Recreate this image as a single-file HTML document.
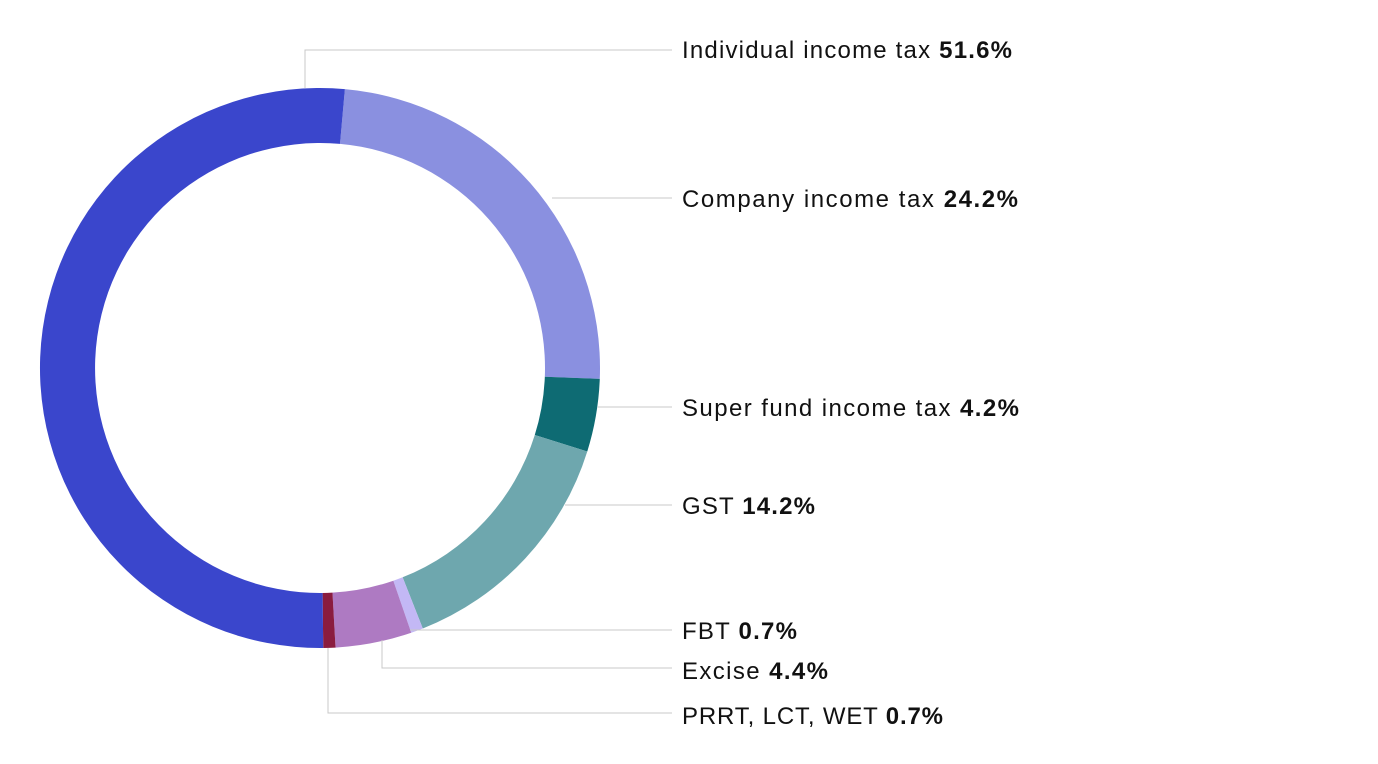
<!DOCTYPE html>
<html><head><meta charset="utf-8"><style>
html,body{margin:0;padding:0;background:#fff;}
svg{display:block;}
text{font-family:"Liberation Sans",sans-serif;font-size:24px;fill:#111;}
</style></head><body>
<svg id="s" width="1378" height="764" viewBox="0 0 1378 764">
<g id="arcs"></g>
<g stroke="#c8c8c8" stroke-width="1" fill="none">
<polyline points="305,88 305,50 672,50"/>
<polyline points="552,198 672,198"/>
<polyline points="598,407 672,407"/>
<polyline points="565,505 672,505"/>
<polyline points="410,630 672,630"/>
<polyline points="382,640 382,668 672,668"/>
<polyline points="328,648 328,713 672,713"/>
</g>
<text x="682" y="58" textLength="330" lengthAdjust="spacing">Individual income tax <tspan font-weight="bold">51.6%</tspan></text>
<text x="682" y="207" textLength="336" lengthAdjust="spacing">Company income tax <tspan font-weight="bold">24.2%</tspan></text>
<text x="682" y="416" textLength="337" lengthAdjust="spacing">Super fund income tax <tspan font-weight="bold">4.2%</tspan></text>
<text x="682" y="514" textLength="133" lengthAdjust="spacing">GST <tspan font-weight="bold">14.2%</tspan></text>
<text x="682" y="639" textLength="115" lengthAdjust="spacing">FBT <tspan font-weight="bold">0.7%</tspan></text>
<text x="682" y="679" textLength="146" lengthAdjust="spacing">Excise <tspan font-weight="bold">4.4%</tspan></text>
<text x="682" y="724" textLength="261" lengthAdjust="spacing">PRRT, LCT, WET <tspan font-weight="bold">0.7%</tspan></text>
</svg>
<script>
var cx=320,cy=368,R=280,r=225;
var data=[[24.2,"#8a90e0"],[4.2,"#0e6b73"],[14.2,"#6ea7ae"],[0.7,"#c3b8f5"],[4.4,"#ae7ac2"],[0.7,"#8a1c3f"],[51.6,"#3a46cc"]];
var a=5.1,g=document.getElementById("arcs"),h="";
function p(rad,deg){var t=deg*Math.PI/180;return (cx+rad*Math.sin(t)).toFixed(2)+","+(cy-rad*Math.cos(t)).toFixed(2);}
data.forEach(function(d){var b=a+d[0]*3.6;var l=d[0]>50?1:0;
h+='<path fill="'+d[1]+'" d="M'+p(R,a)+' A'+R+','+R+' 0 '+l+' 1 '+p(R,b)+' L'+p(r,b)+' A'+r+','+r+' 0 '+l+' 0 '+p(r,a)+' Z"/>';a=b;});
g.innerHTML=h;
</script>
</body></html>
